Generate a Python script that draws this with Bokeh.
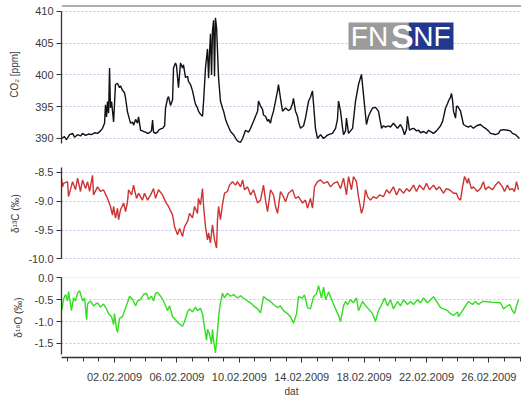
import datetime as dt
from bokeh.plotting import figure
from bokeh.layouts import column
from bokeh.models import (Range1d, FixedTicker, PrintfTickFormatter, Span,
                          BoxAnnotation, Label, DatetimeTickFormatter)
from bokeh.embed import file_html
from bokeh.resources import INLINE

# ---------------- data (time in days since 30.01.2009 00:00) ----------------
START = dt.datetime(2009, 1, 30)

co2_day = [-0.40, -0.21, -0.08, 0.12, 0.31, 0.44, 0.63, 0.82, 0.95, 1.14, 1.33, 1.53, 1.72, 1.91,
           2.10, 2.23, 2.36, 2.42, 2.49, 2.55, 2.62, 2.68, 2.74, 2.81, 2.94, 3.06, 3.19, 3.32, 3.38,
           3.51, 3.64, 3.71, 3.83, 3.96, 4.03, 4.15, 4.22, 4.35, 4.47, 4.54, 4.67, 4.79, 4.86, 4.99,
           5.12, 5.24, 5.37, 5.44, 5.50, 5.63, 5.76, 5.82, 5.95, 6.08, 6.21, 6.27, 6.40, 6.46, 6.59,
           6.72, 6.78, 6.91, 6.97, 7.10, 7.23, 7.36, 7.42, 7.55, 7.68, 7.74, 7.87, 8.00, 8.13, 8.19,
           8.32, 8.38, 8.51, 8.64, 8.71, 8.83, 8.96, 9.03, 9.09, 9.15, 9.22, 9.28, 9.35, 9.41, 9.47,
           9.54, 9.60, 9.67, 9.79, 9.92, 9.99, 10.12, 10.24, 10.44, 10.63, 10.82, 10.95, 11.08, 11.21,
           11.40, 11.59, 11.72, 11.91, 12.04, 12.17, 12.23, 12.36, 12.49, 12.55, 12.68, 12.81, 12.88,
           13.00, 13.06, 13.19, 13.32, 13.45, 13.51, 13.64, 13.77, 13.96, 14.15, 14.28, 14.41, 14.47,
           14.60, 14.73, 14.79, 14.92, 15.12, 15.24, 15.44, 15.56, 15.69, 15.76, 15.88, 16.01, 16.21,
           16.40, 16.59, 16.72, 16.97, 17.17, 17.29, 17.36, 17.49, 17.62, 17.68, 17.81, 17.87, 18.00,
           18.13, 18.26, 18.45, 18.64, 18.83, 18.96, 19.15, 19.28, 19.41, 19.54, 19.73, 19.92, 20.12,
           20.24, 20.37, 20.56, 20.69, 20.88, 21.01, 21.14, 21.33, 21.46, 21.59, 21.72, 21.78, 21.91,
           22.04, 22.17, 22.36, 22.49, 22.62, 22.81, 23.00, 23.13, 23.32, 23.45, 23.64, 23.77, 23.90,
           24.03, 24.15, 24.22, 24.35, 24.41, 24.54, 24.60, 24.67, 24.73, 24.86, 24.92, 24.99, 25.12,
           25.18, 25.37, 25.50, 25.69, 25.82, 26.01, 26.21, 26.46, 26.65, 26.78, 26.97, 27.10, 27.29,
           27.42, 27.62, 27.74, 27.94, 28.19, 28.38, 28.51, 28.71, 28.83, 28.96]
co2_ppm = [390.0, 390.3, 389.8, 390.6, 390.8, 390.2, 390.6, 390.4, 390.8, 390.5, 390.7, 390.6, 390.9, 390.8,
           391.2, 391.6, 392.4, 395.3, 393.4, 395.8, 394.0, 401.1, 394.8, 395.8, 392.6, 398.5, 398.7, 398.0, 398.3,
           397.6, 397.2, 396.3, 394.2, 393.0, 392.4, 392.6, 392.1, 393.0, 392.4, 393.4, 391.3, 391.2, 391.1, 391.0,
           390.8, 390.9, 391.2, 392.9, 391.0, 390.8, 391.0, 391.3, 391.5, 391.6, 392.0, 394.8, 396.3, 396.6, 395.2,
           396.1, 401.1, 401.9, 401.5, 398.0, 401.9, 401.1, 401.6, 399.6, 399.8, 399.0, 398.5, 397.5, 396.0, 395.4,
           394.8, 394.3, 393.8, 393.5, 395.9, 401.1, 404.1, 399.5, 403.5, 406.5, 400.0, 407.0, 408.6, 399.8, 409.0,
           407.5, 403.8, 399.5, 395.9, 394.8, 394.3, 393.0, 392.2, 391.1, 390.6, 389.8, 389.5, 389.4, 390.0,
           391.3, 391.0, 391.6, 392.7, 393.5, 394.3, 395.9, 395.1, 394.6, 393.7, 393.5, 392.7, 393.0,
           392.4, 393.2, 394.3, 395.9, 397.5, 398.5, 396.3, 394.3, 394.8, 394.4, 394.6, 395.5, 396.3,
           394.3, 393.5, 392.7, 391.6, 392.0, 393.2, 395.9, 396.5, 397.5, 395.4, 391.6, 390.0, 390.6,
           390.0, 390.4, 390.6, 390.8, 391.6, 393.0, 395.9, 394.3, 391.6, 390.6, 391.2, 393.2, 390.8,
           391.2, 391.6, 395.9, 398.5, 400.1, 396.9, 392.2, 393.5, 394.2, 394.8, 394.9, 394.3, 391.6,
           392.0, 391.8, 392.0, 391.8, 392.4, 392.0, 391.6, 392.2, 391.6, 390.6, 391.5, 393.5, 391.3,
           391.5, 391.6, 391.2, 391.3, 390.9, 391.1, 390.8, 391.3, 391.0, 390.8, 391.2, 391.6, 392.0,
           392.7, 394.0, 394.8, 395.5, 395.9, 396.5, 397.1, 396.0, 394.3, 393.2, 395.0, 395.1, 394.6,
           394.3, 392.2, 392.0, 391.8, 392.0, 391.6, 392.0, 392.2, 391.8, 391.6, 391.2, 390.8, 390.7,
           390.6, 390.8, 391.3, 391.4, 391.3, 391.2, 390.8, 390.6, 390.3, 390.0]

d13c_day = [-0.40, -0.33, -0.27, -0.01, 0.05, 0.31, 0.50, 0.63, 0.82, 0.95, 1.14, 1.27, 1.40, 1.59,
            1.65, 1.91, 2.10, 2.29, 2.55, 2.74, 2.87, 2.94, 3.06, 3.19, 3.26, 3.38, 3.58, 3.71, 3.83,
            3.90, 4.09, 4.22, 4.41, 4.54, 4.79, 4.92, 5.12, 5.31, 5.50, 5.63, 5.82, 6.08, 6.27, 6.46,
            6.72, 6.85, 7.04, 7.17, 7.36, 7.49, 7.68, 7.81, 8.00, 8.13, 8.32, 8.38, 8.51, 8.64, 8.71,
            8.83, 8.96, 9.03, 9.15, 9.28, 9.41, 9.54, 9.60, 9.67, 9.79, 9.92, 10.05, 10.24, 10.37,
            10.56, 10.76, 10.88, 11.08, 11.21, 11.33, 11.53, 11.72, 11.91, 12.17, 12.36, 12.55, 12.68,
            12.81, 13.00, 13.19, 13.32, 13.45, 13.64, 13.83, 13.96, 14.15, 14.41, 14.60, 14.79, 15.05,
            15.24, 15.37, 15.56, 15.69, 15.82, 16.01, 16.21, 16.40, 16.65, 16.85, 17.04, 17.29, 17.49,
            17.68, 17.87, 18.00, 18.19, 18.32, 18.51, 18.64, 18.83, 18.96, 19.09, 19.22, 19.41, 19.60,
            19.79, 19.99, 20.24, 20.44, 20.63, 20.88, 21.08, 21.27, 21.53, 21.72, 21.91, 22.17, 22.36,
            22.55, 22.81, 23.00, 23.19, 23.45, 23.64, 23.83, 24.09, 24.28, 24.47, 24.73, 24.92, 25.05,
            25.18, 25.31, 25.44, 25.63, 25.69, 25.88, 26.01, 26.27, 26.46, 26.65, 26.78, 26.97, 27.23,
            27.42, 27.62, 27.87, 28.00, 28.19, 28.33, 28.51, 28.64, 28.77, 28.90]
d13c_val = [-8.60, -8.75, -8.69, -8.66, -8.92, -8.66, -8.80, -8.60, -8.83, -8.63, -8.78, -8.66, -8.83, -8.55,
            -8.89, -8.75, -8.83, -8.80, -8.95, -9.09, -9.24, -9.09, -9.29, -9.12, -9.32, -9.15, -9.03, -9.18, -9.01,
            -8.80, -8.89, -8.72, -8.95, -8.86, -8.98, -8.86, -8.98, -8.89, -8.78, -8.95, -8.80, -8.89, -9.01, -9.09,
            -9.24, -9.44, -9.58, -9.47, -9.61, -9.44, -9.35, -9.21, -9.29, -9.09, -9.21, -8.95, -9.06, -8.78, -9.09,
            -9.44, -9.67, -9.55, -9.72, -9.41, -9.67, -9.81, -9.32, -9.09, -9.32, -9.06, -8.86, -8.83, -8.72,
            -8.66, -8.72, -8.66, -8.75, -8.63, -8.80, -8.75, -8.89, -8.80, -9.03, -8.98, -8.72, -8.98,
            -9.18, -8.80, -8.89, -9.09, -9.21, -8.83, -8.92, -9.01, -8.86, -8.80, -8.95, -8.92, -9.03,
            -8.98, -9.12, -8.95, -9.12, -8.75, -8.66, -8.63, -8.69, -8.66, -8.75, -8.69, -8.66, -8.78,
            -8.60, -8.89, -8.57, -8.80, -8.57, -8.66, -8.92, -9.21, -9.09, -8.80, -8.92, -8.98, -8.92,
            -8.95, -8.89, -8.92, -8.80, -8.86, -8.75, -8.89, -8.78, -8.86, -8.78, -8.83, -8.72, -8.83,
            -8.72, -8.80, -8.69, -8.80, -8.72, -8.80, -8.75, -8.86, -8.78, -8.80, -8.86, -8.86, -8.95,
            -8.98, -8.75, -8.57, -8.69, -8.60, -8.78, -8.75, -8.83, -8.78, -8.66, -8.80, -8.75, -8.80,
            -8.72, -8.66, -8.75, -8.83, -8.72, -8.80, -8.78, -8.83, -8.66, -8.80]

d18o_day = [-0.40, -0.33, -0.27, -0.14, -0.01, 0.05, 0.24, 0.37, 0.50, 0.63, 0.76, 0.95, 1.08, 1.21,
            1.27, 1.46, 1.65, 1.91, 2.10, 2.29, 2.49, 2.62, 2.81, 2.94, 3.00, 3.13, 3.19, 3.32, 3.51,
            3.64, 3.83, 3.96, 4.15, 4.35, 4.47, 4.67, 4.86, 5.05, 5.18, 5.37, 5.50, 5.63, 5.76, 5.95,
            6.14, 6.27, 6.40, 6.53, 6.72, 6.91, 7.10, 7.36, 7.49, 7.68, 7.81, 8.00, 8.19, 8.32, 8.51,
            8.64, 8.77, 8.90, 8.96, 9.09, 9.22, 9.28, 9.35, 9.47, 9.60, 9.67, 9.79, 9.92, 10.05, 10.24,
            10.44, 10.63, 10.88, 11.08, 11.27, 11.53, 11.72, 11.91, 12.17, 12.36, 12.55, 12.81, 13.00,
            13.19, 13.45, 13.64, 13.83, 14.09, 14.28, 14.47, 14.67, 14.79, 15.05, 15.18, 15.37, 15.56,
            15.76, 15.95, 16.08, 16.27, 16.40, 16.53, 16.72, 16.97, 17.17, 17.36, 17.49, 17.68, 17.81,
            17.94, 18.13, 18.32, 18.51, 18.64, 18.90, 19.09, 19.28, 19.54, 19.73, 19.92, 20.18, 20.31,
            20.50, 20.69, 20.88, 21.14, 21.33, 21.53, 21.78, 21.97, 22.17, 22.42, 22.62, 22.81, 23.06,
            23.26, 23.45, 23.71, 23.90, 24.09, 24.35, 24.54, 24.73, 24.99, 25.05, 25.31, 25.50, 25.69,
            25.95, 26.14, 26.33, 26.59, 26.78, 27.29, 27.74, 27.94, 28.19, 28.33, 28.51, 28.64, 28.77,
            28.90]
d18o_val = [-0.75, -0.64, -0.49, -0.38, -0.53, -0.31, -0.75, -0.46, -0.53, -0.35, -0.29, -0.53, -0.46, -0.96,
            -0.60, -0.53, -0.64, -0.57, -0.67, -0.60, -0.71, -0.82, -0.89, -1.07, -0.82, -1.18, -1.25, -0.93, -0.89,
            -0.75, -0.57, -0.42, -0.49, -0.64, -0.53, -0.49, -0.38, -0.35, -0.49, -0.42, -0.53, -0.35, -0.33, -0.42,
            -0.53, -0.64, -0.75, -0.64, -0.89, -0.96, -1.04, -1.11, -1.00, -0.78, -0.71, -0.78, -0.67, -0.75, -0.70,
            -0.82, -1.14, -1.43, -1.18, -1.29, -1.51, -1.18, -1.43, -1.72, -1.22, -0.89, -0.57, -0.35, -0.46, -0.35,
            -0.42, -0.38, -0.46, -0.41, -0.46, -0.53, -0.57, -0.64, -0.71, -0.80, -0.43, -0.50, -0.54,
            -0.61, -0.68, -0.64, -0.75, -0.82, -0.89, -1.04, -0.82, -0.43, -0.46, -0.39, -0.68, -0.71,
            -0.43, -0.36, -0.18, -0.46, -0.21, -0.50, -0.32, -0.54, -0.71, -0.86, -1.00, -0.64, -0.54,
            -0.61, -0.50, -0.57, -0.46, -0.75, -0.54, -0.64, -0.71, -0.82, -1.00, -0.75, -0.57, -0.46,
            -0.64, -0.50, -0.71, -0.54, -0.64, -0.50, -0.61, -0.54, -0.61, -0.50, -0.57, -0.46, -0.57,
            -0.50, -0.43, -0.57, -0.68, -0.71, -0.75, -0.82, -0.86, -0.78, -0.89, -0.75, -0.64, -0.54,
            -0.61, -0.54, -0.61, -0.54, -0.54, -0.56, -0.57, -0.71, -0.64, -0.61, -0.75, -0.82, -0.64,
            -0.50]

# axes
x_major_day = [3, 7, 11, 15, 19, 23, 27]        # 02.02.2009 ... 26.02.2009
x_minor_day = list(range(0, 30))                # daily minor ticks
x_view_day = (-0.40, 29.09)
co2_ticks = [390, 395, 400, 405, 410]
d13c_ticks = [-10.0, -9.5, -9.0, -8.5]
d18o_ticks = [-1.5, -1.0, -0.5, 0.0]

EPOCH = dt.datetime(1970, 1, 1)
BASE_MS = (START - EPOCH).total_seconds() * 1000.0


def ms(d):
    return BASE_MS + d * 86400000.0


FONT = "Liberation Sans"
TXT = "#3a3a3a"
AX = "#333333"
GRID = "#c3c6e6"

xr = Range1d(ms(x_view_day[0]), ms(x_view_day[1]))


def make_fig(height, yr, top, bottom, has_x, label_standoff):
    p = figure(width=521, height=height, x_range=xr, y_range=yr,
               x_axis_type="datetime", x_axis_location="below" if has_x else None,
               output_backend="svg", toolbar_location=None,
               min_border_left=61, min_border_right=0,
               min_border_top=top, min_border_bottom=bottom)
    p.outline_line_color = None
    p.background_fill_color = "white"
    p.border_fill_color = "white"
    p.xgrid.visible = False
    p.ygrid.grid_line_color = GRID
    p.ygrid.grid_line_dash = "2 2"
    p.ygrid.grid_line_width = 1
    ya = p.yaxis[0]
    ya.axis_line_color = AX
    ya.axis_line_width = 1.3
    ya.major_tick_line_color = AX
    ya.major_tick_out = 5
    ya.major_tick_in = 0
    ya.minor_tick_line_color = None
    ya.major_label_text_font = FONT
    ya.major_label_text_font_size = "11px"
    ya.major_label_text_color = TXT
    ya.major_label_standoff = 3
    ya.axis_label_text_font = FONT
    ya.axis_label_text_font_size = "10px"
    ya.axis_label_text_font_style = "normal"
    ya.axis_label_text_color = TXT
    ya.axis_label_standoff = label_standoff
    return p


# ---------------- top: CO2 ----------------
p1 = make_fig(155, Range1d(389.21, 410.94), 5, 12, False, 12)
p1.line([ms(d) for d in co2_day], co2_ppm, line_color="#111111", line_width=1.4)
p1.yaxis.ticker = FixedTicker(ticks=co2_ticks)
p1.yaxis.axis_label = "CO₂ [ppm]"
p1.yaxis.bounds = (389.21, 410)
p1.add_layout(Span(location=410.94, dimension="width", line_color="#5e5e5e", line_width=2))

# logo FNSNF
logo_x = (18.00, 21.85, 24.73)
logo_y = (403.97, 408.25)
p1.add_layout(BoxAnnotation(left=ms(logo_x[0]), right=ms(logo_x[1]), bottom=logo_y[0], top=logo_y[1],
                            fill_color="#9b9b9b", fill_alpha=1, line_color=None))
p1.add_layout(BoxAnnotation(left=ms(logo_x[1]), right=ms(logo_x[2]), bottom=logo_y[0], top=logo_y[1],
                            fill_color="#22388f", fill_alpha=1, line_color=None))
mid_y = (logo_y[0] + logo_y[1]) / 2
for txt, xd, align, size, style in [("FN", 18.15, "left", "28px", "normal"),
                                     ("S", 21.45, "center", "34px", "bold"),
                                     ("NF", 22.15, "left", "28px", "normal")]:
    p1.add_layout(Label(x=ms(xd), y=mid_y, text=txt, text_color="white", text_font=FONT,
                        text_font_size=size, text_font_style=style, text_align=align,
                        text_baseline="middle"))

# ---------------- middle: d13C ----------------
p2 = make_fig(113, Range1d(-10.01, -8.414), 12, 9, False, 4)
p2.line([ms(d) for d in d13c_day], d13c_val, line_color="#cc3333", line_width=1.4)
p2.yaxis.ticker = FixedTicker(ticks=d13c_ticks)
p2.yaxis.formatter = PrintfTickFormatter(format="%.1f")
p2.yaxis.axis_label = "δ¹³C (‰)"
p2.yaxis.bounds = (-10.0, -8.414)

# ---------------- bottom: d18O ----------------
p3 = make_fig(131, Range1d(-1.826, 0.01), 9, 38, True, 8)
p3.line([ms(d) for d in d18o_day], d18o_val, line_color="#33dd22", line_width=1.4)
p3.yaxis.ticker = FixedTicker(ticks=d18o_ticks)
p3.yaxis.formatter = PrintfTickFormatter(format="%.1f")
p3.yaxis.axis_label = "δ¹⁸O (‰)"
p3.yaxis.bounds = (-1.76, 0.0)

xa = p3.xaxis[0]
xa.ticker = FixedTicker(ticks=[ms(d) for d in x_major_day], minor_ticks=[ms(d) for d in x_minor_day])
fmt = "%d.%m.%Y"
xa.formatter = DatetimeTickFormatter(hours=fmt, hourmin=fmt, days=fmt, months=fmt, years=fmt)
xa.axis_line_color = AX
xa.axis_line_width = 1.3
xa.major_tick_line_color = AX
xa.minor_tick_line_color = AX
xa.major_tick_out = 5
xa.major_tick_in = 0
xa.minor_tick_out = 4
xa.minor_tick_in = 0
xa.major_label_text_font = FONT
xa.major_label_text_font_size = "11px"
xa.major_label_text_color = TXT
xa.major_label_standoff = 10
xa.axis_label = "dat"
xa.axis_label_text_font = FONT
xa.axis_label_text_font_size = "10px"
xa.axis_label_text_font_style = "normal"
xa.axis_label_text_color = TXT
xa.axis_label_standoff = 2

layout = column(p1, p2, p3)
open("out.html", "w").write(file_html(layout, INLINE))
